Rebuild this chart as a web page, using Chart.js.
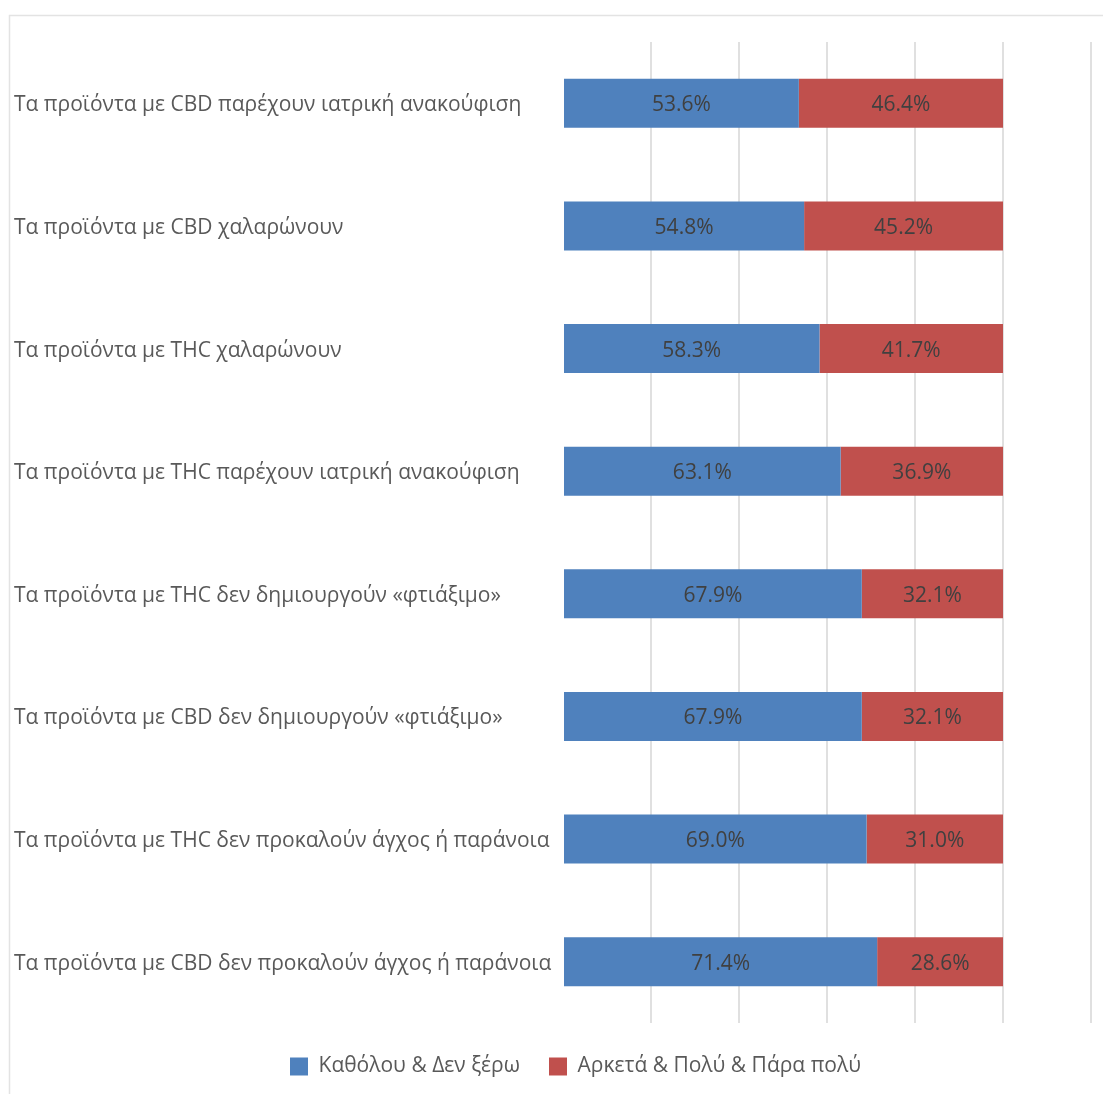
<!DOCTYPE html>
<html lang="el">
  <head>
    <meta charset="UTF-8" />
    <title>Απόψεις για προϊόντα CBD και THC</title>
    <script src="https://cdn.jsdelivr.net/npm/chart.js"></script>
    <style>
      html, body { margin: 0; padding: 0; background: #fff; }
      #wrap { width: 1103px; height: 1094px; position: relative; }
    </style>
  </head>
  <body>
    <div id="wrap">
      <canvas id="chart" width="1103" height="1094"></canvas>
    </div>

    <script>
      const statements = [
        "Τα προϊόντα με CBD παρέχουν ιατρική ανακούφιση",
        "Τα προϊόντα με CBD χαλαρώνουν",
        "Τα προϊόντα με THC χαλαρώνουν",
        "Τα προϊόντα με THC παρέχουν ιατρική ανακούφιση",
        "Τα προϊόντα με THC δεν δημιουργούν «φτιάξιμο»",
        "Τα προϊόντα με CBD δεν δημιουργούν «φτιάξιμο»",
        "Τα προϊόντα με THC δεν προκαλούν άγχος ή παράνοια",
        "Τα προϊόντα με CBD δεν προκαλούν άγχος ή παράνοια",
      ];
      const lowValues = [53.6, 54.8, 58.3, 63.1, 67.9, 67.9, 69.0, 71.4];
      const highValues = [46.4, 45.2, 41.7, 36.9, 32.1, 32.1, 31.0, 28.6];
      const seriesNames = ["Καθόλου & Δεν ξέρω", "Αρκετά & Πολύ & Πάρα πολύ"];

      const FONT = "'Open Sans', 'DejaVu Sans', sans-serif";

      // light frame around the chart
      const framePlugin = {
        id: "frame",
        beforeDraw(chart) {
          const ctx = chart.ctx;
          ctx.save();
          ctx.strokeStyle = "#e3e3e3";
          ctx.lineWidth = 1.5;
          ctx.beginPath();
          ctx.moveTo(9.5, chart.height + 5);
          ctx.lineTo(9.5, 15.5);
          ctx.lineTo(chart.width + 5, 15.5);
          ctx.stroke();
          ctx.restore();
        },
      };

      // nudge the legend a bit to the right
      const legendShift = {
        id: "legendShift",
        afterLayout(chart) {
          chart.legend.left += 23;
          chart.legend.right += 23;
        },
      };

      // percentage written in the middle of each segment
      const valueLabels = {
        id: "valueLabels",
        afterDatasetsDraw(chart) {
          const ctx = chart.ctx;
          ctx.save();
          ctx.font = "21px " + FONT;
          ctx.fillStyle = "#404040";
          ctx.textAlign = "center";
          ctx.textBaseline = "middle";
          chart.data.datasets.forEach((ds, i) => {
            chart.getDatasetMeta(i).data.forEach((bar, j) => {
              const p = bar.getCenterPoint();
              ctx.fillText(ds.data[j].toFixed(1) + "%", p.x, p.y + 2);
            });
          });
          ctx.restore();
        },
      };

      new Chart(document.getElementById("chart"), {
        type: "bar",
        data: {
          labels: statements,
          datasets: [
            {
              label: seriesNames[0],
              data: lowValues,
              backgroundColor: "#4f81bd",
              barPercentage: 0.4,
              categoryPercentage: 1,
            },
            {
              label: seriesNames[1],
              data: highValues,
              backgroundColor: "#c0504d",
              barPercentage: 0.4,
              categoryPercentage: 1,
            },
          ],
        },
        options: {
          indexAxis: "y",
          responsive: false,
          animation: false,
          layout: { padding: { left: 14, right: 12, top: 42, bottom: 7 } },
          scales: {
            x: {
              stacked: true,
              min: 0,
              max: 120,
              afterFit: (s) => { s.height = 4; },
              ticks: { display: false, stepSize: 20 },
              border: { display: false },
              grid: {
                drawTicks: false,
                lineWidth: 2,
                color: (c) => (c.tick && c.tick.value === 0 ? "rgba(0,0,0,0)" : "#e0e0e0"),
              },
            },
            y: {
              stacked: true,
              border: { display: false },
              grid: { display: false },
              afterFit: (s) => { s.width = 549; },
              ticks: {
                crossAlign: "far",
                labelOffset: 2,
                color: "#595959",
                font: { family: FONT, size: 21 },
              },
            },
          },
          plugins: {
            legend: {
              position: "bottom",
              labels: {
                boxWidth: 18,
                boxHeight: 18,
                padding: 29,
                color: "#595959",
                font: { family: FONT, size: 21 },
              },
            },
            tooltip: { enabled: false },
          },
        },
        plugins: [framePlugin, legendShift, valueLabels],
      });
    </script>
  </body>
</html>
